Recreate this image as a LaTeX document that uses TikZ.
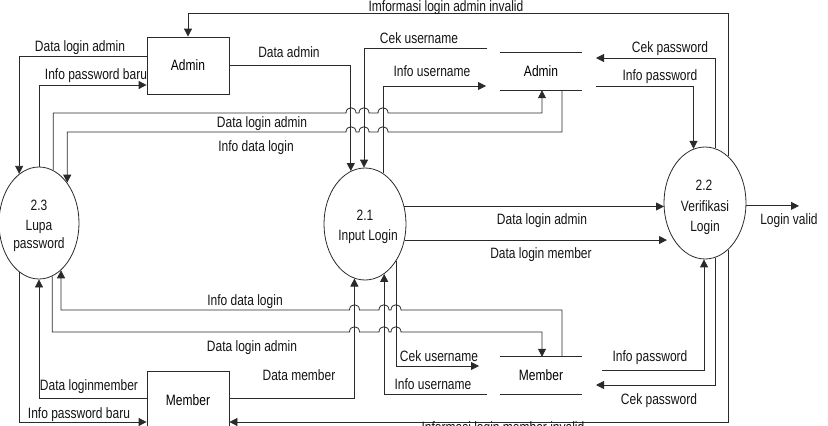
\documentclass[tikz,border=0pt]{standalone}
\usepackage{fontspec}
\setmainfont[FakeStretch=0.8]{Liberation Sans}
\usetikzlibrary{arrows.meta,shapes.geometric}
\definecolor{ink}{HTML}{2A2A2A}
\begin{document}
\begin{tikzpicture}[x=1pt,y=-1pt,
  flow/.style={draw=ink, line width=0.8pt},
  arr/.style={flow, -{Triangle[length=8pt,width=8pt]}},
  lbl/.style={font=\fontsize{15}{15}\selectfont, inner sep=0pt, text height=10.7pt, text depth=0pt, text=black!92},
  proc/.style={ellipse, draw=ink, line width=0.8pt, minimum width=82pt, minimum height=112pt, inner sep=0pt},
  ent/.style={rectangle, draw=ink, line width=0.8pt, minimum width=82pt, inner sep=0pt, font=\fontsize{15}{15}\selectfont, text height=10.7pt, text depth=0pt},
  store/.style={rectangle, minimum width=82pt, minimum height=37pt, inner sep=0pt, font=\fontsize{15}{15}\selectfont, text height=10.7pt, text depth=0pt}]
\useasboundingbox (0,0) rectangle (828,426);

% external entities
\node[ent, minimum height=57pt] (admin) at (188,65.5) {Admin};
\node[ent, minimum height=59pt] (member) at (188,400.5) {Member};

% processes
\node[proc, minimum width=80pt] (p23) at (39,223) {};
\node[proc] (p21) at (365,224) {};
\node[proc] (p22) at (705,203) {};
\node[lbl] (t23a) at (39,205) {2.3};
\node[lbl] (t23b) at (39,225) {Lupa};
\node[lbl] (t23c) at (39,243.5) {password};
\node[lbl] (t21a) at (365,215) {2.1};
\node[lbl] (t21b) at (368,235) {Input Login};
\node[lbl] (t22a) at (704,185) {2.2};
\node[lbl] (t22b) at (705,206) {Verifikasi};
\node[lbl] (t22c) at (705,226) {Login};

% data stores
\node[store] (dsA) at (541,71.5) {Admin};
\node[store] (dsM) at (541,375.5) {Member};
\draw[flow] (dsA.north west) -- (dsA.north east);
\draw[flow] (dsA.south west) -- (dsA.south east);
\draw[flow] (dsM.north west) -- (dsM.north east);
\draw[flow] (dsM.south west) -- (dsM.south east);

% free ends near the stores
\coordinate (cpA) at (596,58);
\coordinate (ipA) at (596,86);
\coordinate (ipM) at (602,370);
\coordinate (cpM) at (596,385);
\coordinate (cuA) at (487,48);
\coordinate (iuA) at (486,86);
\coordinate (cuM) at (479,366);
\coordinate (iuM) at (487,394);
\coordinate (lv) at (799,206);

% top: invalid admin login
\draw[arr] (p22.64) |- (admin.north |- 0,13) -- (admin.north);
% bottom: invalid member login
\draw[arr] (p22.-64) |- (member.east |- 0,422);
% admin store <-> 2.2
\draw[arr] (p22.79) |- (cpA);
\draw[arr] (ipA) -| (p22.102);
% member store <-> 2.2
\draw[arr] (ipM) -| (p22.-91);
\draw[arr] (p22.-79) |- (cpM);
% admin store <-> 2.1
\draw[arr] (cuA) -| (p21.91);
\draw[arr] (p21.70) |- (iuA);
% admin -> 2.1
\draw[arr] (admin.east) -| (p21.105);
% admin <-> 2.3
\draw[arr] (admin.west |- 0,56) -| (p23.112);
\draw[arr] (p23.90) |- (admin.west |- 0,85);
% 2.3 -> admin store (with hops)
\draw[arr] (p23.75) |- (346,113)
  .. controls +(0,-7) and +(0,-7) .. (356,113) -- (359,113)
  .. controls +(0,-7) and +(0,-7) .. (369,113) -- (378,113)
  .. controls +(0,-7) and +(0,-7) .. (388,113) -| (dsA.south -| 542,0);
% admin store -> 2.3 (with hops)
\draw[arr] (dsA.south -| 562,0) |- (388,132)
  .. controls +(0,-7) and +(0,-7) .. (378,132) -- (369,132)
  .. controls +(0,-7) and +(0,-7) .. (359,132) -- (356,132)
  .. controls +(0,-7) and +(0,-7) .. (346,132) -| (p23.55);
% member -> 2.1
\draw[arr] (member.east |- 0,398) -| (p21.-101);
% member store <-> 2.1
\draw[arr] (p21.-50) |- (cuM);
\draw[arr] (iuM) -| (p21.-69);
% member store -> 2.3 (with hops)
\draw[arr] (dsM.north -| 562,0) |- (401,310)
  .. controls +(0,-7) and +(0,-7) .. (391,310) -- (389,310)
  .. controls +(0,-7) and +(0,-7) .. (379,310) -- (359.5,310)
  .. controls +(0,-7) and +(0,-7) .. (349.5,310) -| (p23.-65);
% 2.3 -> member store (with hops)
\draw[arr] (p23.-76) |- (349.5,332)
  .. controls +(0,-7) and +(0,-7) .. (359.5,332) -- (379,332)
  .. controls +(0,-7) and +(0,-7) .. (389,332) -- (391,332)
  .. controls +(0,-7) and +(0,-7) .. (401,332) -| (dsM.north -| 542,0);
% member <-> 2.3
\draw[arr] (member.west |- 0,398) -| (p23.-90);
\draw[arr] (p23.-112) |- (member.west |- 0,422);
% 2.1 -> 2.2
\draw[arr] (p21.24) -- (p21.24 -| 664,0);
\draw[arr] (p21.-22) -- (p21.-22 -| 667,0);
% 2.2 -> out
\draw[arr] (p22.-4) -- (p22.-4 -| lv);

% labels
\node[lbl] (l1) at (446,6) {Imformasi login admin invalid};
\node[lbl] (l2) at (80,46.5) {Data login admin};
\node[lbl] (l3) at (96,74.5) {Info password baru};
\node[lbl] (l4) at (289,52) {Data admin};
\node[lbl] (l5) at (419,38) {Cek username};
\node[lbl] (l6) at (432,71) {Info username};
\node[lbl] (l7) at (670,47.5) {Cek password};
\node[lbl] (l8) at (660,75) {Info password};
\node[lbl] (l9) at (262,122) {Data login admin};
\node[lbl] (l10) at (256,146) {Info data login};
\node[lbl] (l11) at (542,219) {Data login admin};
\node[lbl] (l12) at (541,253) {Data login member};
\node[lbl] (l13) at (789,219.5) {Login valid};
\node[lbl] (l14) at (245,300.5) {Info data login};
\node[lbl] (l15) at (252,346.5) {Data login admin};
\node[lbl] (l16) at (299,375) {Data member};
\node[lbl] (l17) at (89,385) {Data loginmember};
\node[lbl] (l18) at (79,413) {Info password baru};
\node[lbl] (l19) at (439,356.5) {Cek username};
\node[lbl] (l20) at (433,384) {Info username};
\node[lbl] (l21) at (650,356) {Info password};
\node[lbl] (l22) at (659,399) {Cek password};
\node[lbl] (l23) at (503,427) {Informasi login member invalid};
\end{tikzpicture}
\end{document}
